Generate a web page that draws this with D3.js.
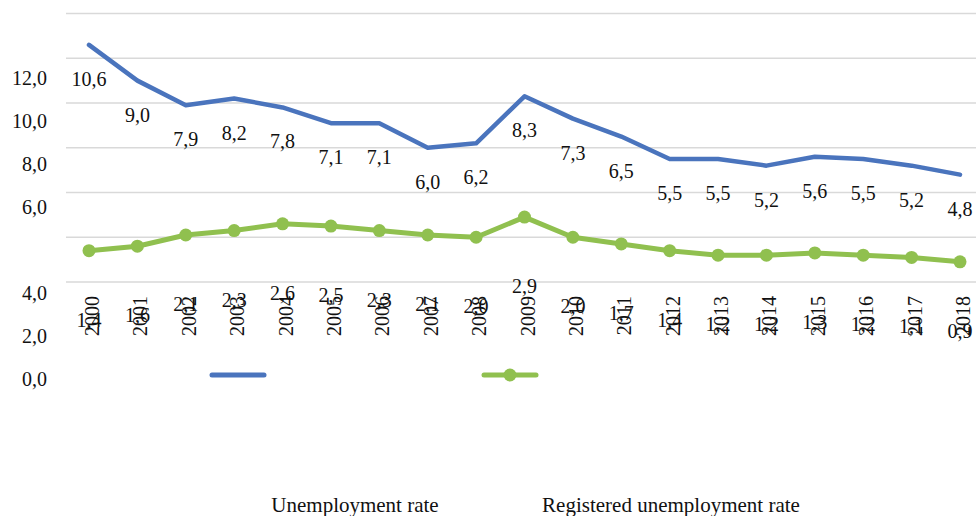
<!DOCTYPE html>
<html>
<head>
<meta charset="utf-8">
<script src="https://cdn.jsdelivr.net/npm/d3@7"></script>
<style>
  html, body { margin: 0; padding: 0; background: #fff; overflow: hidden; }
  svg { display: block; font-family: "Liberation Serif", "Times New Roman", serif; }
</style>
</head>
<body>
<svg id="chart" width="976" height="516"></svg>
<script>
// Years on the category axis
const years = ["2000","2001","2002","2003","2004","2005","2006","2007","2008","2009",
               "2010","2011","2012","2013","2014","2015","2016","2017","2018"];
// Unemployment rate, %
const unemployment = [10.6, 9.0, 7.9, 8.2, 7.8, 7.1, 7.1, 6.0, 6.2, 8.3,
                      7.3, 6.5, 5.5, 5.5, 5.2, 5.6, 5.5, 5.2, 4.8];
// Registered unemployment rate, %
const registered = [1.4, 1.6, 2.1, 2.3, 2.6, 2.5, 2.3, 2.1, 2.0, 2.9,
                    2.0, 1.7, 1.4, 1.2, 1.2, 1.3, 1.2, 1.1, 0.9];
// Value axis tick labels (one slot left empty)
const yTickLabels = ["12,0", "10,0", "8,0", "6,0", "", "4,0", "2,0", "0,0"];
const gridValues = [0, 2, 4, 6, 8, 10, 12];
const seriesNames = ["Unemployment rate", "Registered unemployment rate"];

const BLUE = "#4a74bd";
const GREEN = "#90c04f";
const fmt = v => d3.format(".1f")(v).replace(".", ",");

const svg = d3.select("#chart");

const x = d3.scalePoint().domain(years).range([89, 960]);
const y = d3.scaleLinear().domain([0, 12]).range([282, 13.5]);
const yLab = d3.scalePoint().domain(yTickLabels).range([78, 379]);

// horizontal gridlines
svg.append("g")
  .selectAll("line")
  .data(gridValues)
  .join("line")
  .attr("x1", 66).attr("x2", 990)
  .attr("y1", d => y(d)).attr("y2", d => y(d))
  .attr("stroke", "#d9d9d9").attr("stroke-width", 1.6);

// value axis labels
svg.append("g")
  .selectAll("text")
  .data(yTickLabels)
  .join("text")
  .attr("x", 47).attr("y", d => yLab(d))
  .attr("dy", "0.35em")
  .attr("text-anchor", "end")
  .attr("font-size", 20)
  .attr("fill", "#111")
  .text(d => d);

const line = d3.line().x((d, i) => x(years[i])).y(d => y(d));

// unemployment rate line
svg.append("path")
  .datum(unemployment)
  .attr("d", line)
  .attr("fill", "none")
  .attr("stroke", BLUE)
  .attr("stroke-width", 4.5)
  .attr("stroke-linejoin", "round")
  .attr("stroke-linecap", "round");

// registered unemployment line with markers
svg.append("path")
  .datum(registered)
  .attr("d", line)
  .attr("fill", "none")
  .attr("stroke", GREEN)
  .attr("stroke-width", 5)
  .attr("stroke-linejoin", "round");

svg.append("g")
  .selectAll("circle")
  .data(registered)
  .join("circle")
  .attr("cx", (d, i) => x(years[i]))
  .attr("cy", d => y(d))
  .attr("r", 6.5)
  .attr("fill", GREEN);

// data labels
svg.append("g")
  .selectAll("text")
  .data(unemployment)
  .join("text")
  .attr("x", (d, i) => x(years[i]))
  .attr("y", d => y(d) + 34)
  .attr("dy", "0.35em")
  .attr("text-anchor", "middle")
  .attr("font-size", 20)
  .attr("fill", "#111")
  .text(fmt);

svg.append("g")
  .selectAll("text")
  .data(registered)
  .join("text")
  .attr("x", (d, i) => x(years[i]))
  .attr("y", d => y(d) + 69)
  .attr("dy", "0.35em")
  .attr("text-anchor", "middle")
  .attr("font-size", 20)
  .attr("fill", "#111")
  .text(fmt);

// rotated year labels
svg.append("g")
  .selectAll("text")
  .data(years)
  .join("text")
  .attr("transform", d => `translate(${x(d) + 3},296) rotate(-90)`)
  .attr("dy", "0.35em")
  .attr("text-anchor", "end")
  .attr("font-size", 20)
  .attr("fill", "#111")
  .text(d => d);

// legend keys
const legendKeys = svg.append("g");
legendKeys.append("line")
  .attr("x1", 212).attr("x2", 264).attr("y1", 375).attr("y2", 375)
  .attr("stroke", BLUE).attr("stroke-width", 5).attr("stroke-linecap", "round");
legendKeys.append("line")
  .attr("x1", 484).attr("x2", 536).attr("y1", 375).attr("y2", 375)
  .attr("stroke", GREEN).attr("stroke-width", 5).attr("stroke-linecap", "round");
legendKeys.append("circle")
  .attr("cx", 510).attr("cy", 375).attr("r", 6.5).attr("fill", GREEN);

// legend texts
svg.append("g")
  .selectAll("text")
  .data(seriesNames)
  .join("text")
  .attr("x", (d, i) => [355, 671][i])
  .attr("y", 512)
  .attr("text-anchor", "middle")
  .attr("font-size", 21)
  .attr("fill", "#111")
  .text(d => d);
</script>
</body>
</html>
